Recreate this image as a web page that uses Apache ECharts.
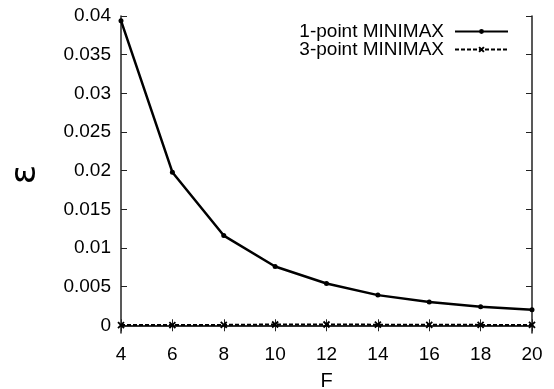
<!DOCTYPE html>
<html>
<head>
<meta charset="utf-8">
<script src="https://cdn.jsdelivr.net/npm/echarts@6/dist/echarts.min.js"></script>
<style>
  html, body { margin: 0; padding: 0; background: #fff; }
  #chart { width: 554px; height: 389px; }
</style>
</head>
<body>
<div id="chart"></div>
<script>
// x values (F) and error values
const fValues = [4, 6, 8, 10, 12, 14, 16, 18, 20];
const onePoint = [0.0394, 0.0198, 0.0116, 0.0076, 0.0054, 0.0039, 0.0030, 0.0024, 0.0020];
const threePoint = [0.00002, 0.00003, 0.00005, 0.0001, 0.0001, 0.00008, 0.00006, 0.00005, 0.00004];
const yTicks = [0, 0.005, 0.01, 0.015, 0.02, 0.025, 0.03, 0.035, 0.04];
const seriesNames = ['1-point MINIMAX', '3-point MINIMAX'];

const font = 'Liberation Sans, Arial, sans-serif';
const crossPath = 'path://M0,0L10,10M10,0L0,10';

function pairs(ys) {
    return fValues.map((f, i) => [f, ys[i]]);
}

const chart = echarts.init(document.getElementById('chart'));

// mirrored box axes like gnuplot (ticks inside on all sides)
const tickStyle = { show: true, inside: true, length: 6, lineStyle: { color: '#222', width: 1 } };

const options = {
    animation: false,
    grid: { left: 121, right: 22, top: 16, bottom: 56, containLabel: false, outerBoundsMode: 'none' },
    legend: {
        orient: 'vertical',
        right: 45,
        top: 22,
        padding: 0,
        align: 'right',
        itemWidth: 53,
        itemHeight: 6,
        itemGap: -1,
        textStyle: { fontFamily: font, fontSize: 19, color: '#000', padding: [0, 6, 0, 0] },
        data: seriesNames
    },
    xAxis: [
        {
            type: 'value', min: 4, max: 20, interval: 2,
            name: 'F', nameLocation: 'middle', nameGap: 38,
            nameTextStyle: { fontFamily: font, fontSize: 20, color: '#000' },
            axisLine: { show: true, lineStyle: { color: '#222', width: 1.5 } },
            axisTick: tickStyle,
            axisLabel: { fontFamily: font, fontSize: 19, color: '#000', margin: 12 },
            splitLine: { show: false }
        },
        {
            type: 'value', position: 'top', min: 4, max: 20, interval: 2,
            axisLine: { show: true, lineStyle: { color: '#222', width: 1.5 } },
            axisTick: tickStyle,
            axisLabel: { show: false },
            splitLine: { show: false }
        }
    ],
    yAxis: [
        {
            type: 'value', min: -0.001, max: 0.04,
            name: 'ε', nameLocation: 'middle', nameGap: 77, nameRotate: 90,
            nameTextStyle: { fontFamily: 'DejaVu Sans, sans-serif', fontSize: 36, color: '#000' },
            axisLine: { show: true, lineStyle: { color: '#222', width: 1.5 } },
            axisTick: Object.assign({ customValues: yTicks }, tickStyle),
            axisLabel: { customValues: yTicks, fontFamily: font, fontSize: 19, color: '#000', margin: 10 },
            splitLine: { show: false }
        },
        {
            type: 'value', position: 'right', min: -0.001, max: 0.04,
            axisLine: { show: true, lineStyle: { color: '#222', width: 1.5 } },
            axisTick: Object.assign({ customValues: yTicks }, tickStyle),
            axisLabel: { show: false },
            splitLine: { show: false }
        }
    ],
    series: [
        {
            name: seriesNames[0],
            type: 'line',
            data: pairs(onePoint),
            symbol: 'circle',
            symbolSize: 5,
            lineStyle: { color: '#000', width: 2.5 },
            itemStyle: { color: '#000' }
        },
        {
            name: seriesNames[1],
            type: 'line',
            data: pairs(threePoint),
            symbol: crossPath,
            symbolSize: 6,
            lineStyle: { color: '#000', width: 2, type: [4, 2] },
            itemStyle: { color: '#000', borderColor: '#000', borderWidth: 1.8 }
        }
    ]
};

chart.setOption(options);
</script>
</body>
</html>
